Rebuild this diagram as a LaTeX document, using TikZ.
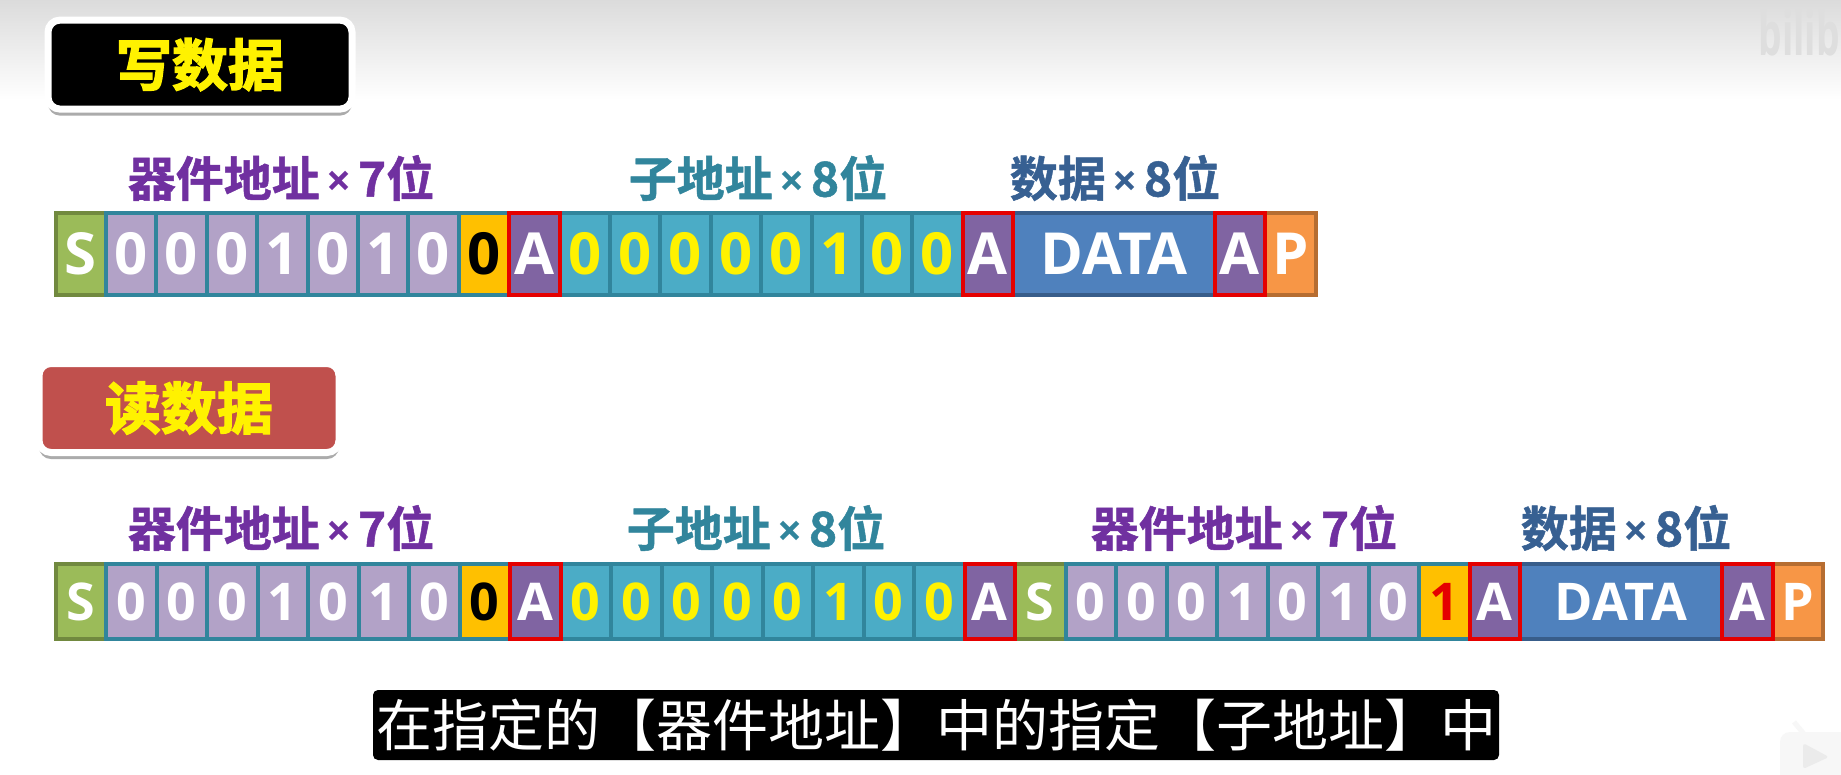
\documentclass[tikz,border=0pt]{standalone}
\usepackage{fontspec}
\setmainfont{Open Sans}
\newfontfamily\cjk{Noto Sans CJK SC}
\newfontfamily\cjkmid{Noto Sans CJK SC}[UprightFont=* Bold,FakeBold=1]
\newfontfamily\cjkfat{Noto Sans CJK SC}[UprightFont=* Bold,FakeBold=2.5]
\usetikzlibrary{shadows}

\definecolor{tealline}{HTML}{31859C}
\definecolor{lilac}{HTML}{B2A2C7}
\definecolor{subfill}{HTML}{4BACC6}
\definecolor{ackfill}{HTML}{8064A2}
\definecolor{datafill}{HTML}{4F81BD}
\definecolor{dataline}{HTML}{385D8A}
\definecolor{startfill}{HTML}{9BBB59}
\definecolor{startline}{HTML}{71893F}
\definecolor{stopfill}{HTML}{F79646}
\definecolor{stopline}{HTML}{B66D31}
\definecolor{labpurple}{HTML}{7030A0}
\definecolor{labblue}{HTML}{376092}
\definecolor{alarmred}{HTML}{C0504D}
\definecolor{rworange}{HTML}{FFC000}

\newcommand{\bysign}{\hspace{7pt}{\rmfamily\bfseries\fontsize{44}{46}\selectfont ×}\hspace{6pt}}

\tikzset{
  bitcell/.style={minimum width=\cellw, minimum height=\cellh, inner sep=0pt,
    line width=4pt, font=\rowfont\bfseries, text=white},
  startbit/.style={bitcell, fill=startfill, draw=startline},
  devbit/.style={bitcell, fill=lilac, draw=tealline},
  rwbit/.style={bitcell, fill=rworange, draw=tealline, text=black},
  rwone/.style={rwbit, text=red!90!black},
  subbit/.style={bitcell, fill=subfill, draw=tealline, text=yellow},
  ackbit/.style={bitcell, fill=ackfill, draw=red!90!black},
  datablk/.style={bitcell, fill=datafill, draw=dataline, minimum width=4*\cellw},
  stopbit/.style={bitcell, fill=stopfill, draw=stopline},
  fieldlab/.style={inner sep=0pt, font=\cjkmid\fontsize{48}{50}\selectfont},
  titlebox/.style={draw=white, line width=7pt, rounded corners=12pt, text=yellow,
    minimum height=89pt, inner sep=0pt,
    font=\cjkfat\fontsize{56}{58}\selectfont,
    drop shadow={shadow xshift=0pt, shadow yshift=-6.5pt, opacity=.6, fill=black!55}},
}

\begin{document}
\begin{tikzpicture}[x=1pt, y=-1pt]
  \useasboundingbox (0,0) rectangle (1841,774);
  \fill [white] (0,0) rectangle (1841,774);
  \fill [top color=black!14, bottom color=white] (0,0) rectangle (1841,100);

  % Faint site marks
  \node (mark) [anchor=east, inner sep=0pt, text=black!13, font=\bfseries\fontsize{60}{62}\selectfont] at (1840,33) {\scalebox{0.62}[1]{bilib}};
  \fill [black!3, rounded corners=10pt] (1780,732) rectangle (1860,790);
  \draw [black!3, line width=5pt] (1794,722) -- (1804,734);
  \fill [black!8, rounded corners=3pt] (1803,743) -- (1829,757) -- (1803,769) -- cycle;

  % Write
  \node (wrtitle) [titlebox, fill=black, minimum width=304pt] at (200,64.6) {写数据};

  \node (wrdev) [fieldlab, text=labpurple] at (281,178) {器件地址\bysign 7位};
  \node (wrsub) [fieldlab, text=tealline] at (758,178) {子地址\bysign 8位};
  \node (wrdat) [fieldlab, text=labblue] at (1115,178) {数据\bysign 8位};

  \begin{scope}
    \def\cellw{50.4pt}
    \def\cellh{82pt}
    \def\rowfont{\fontsize{58}{60}\selectfont}
    \foreach \n/\kind/\txt [count=\i] in {0/startbit/S, 1/devbit/0, 2/devbit/0, 3/devbit/0, 4/devbit/1,
        5/devbit/0, 6/devbit/1, 7/devbit/0, 8/rwbit/0, 10/subbit/0, 11/subbit/0, 12/subbit/0, 13/subbit/0,
        14/subbit/0, 15/subbit/1, 16/subbit/0, 17/subbit/0, 20.5/datablk/DATA, 24/stopbit/P,
        9/ackbit/A, 18/ackbit/A, 23/ackbit/A}
      \node (wr\i) [\kind] at ({55.5+50.4*(\n+0.5)},254) {\txt};
  \end{scope}

  % Read
  \node (rdtitle) [titlebox, fill=alarmred, minimum width=300pt] at (189,408) {读数据};

  \node (rddev) [fieldlab, text=labpurple] at (281,528) {器件地址\bysign 7位};
  \node (rdsub) [fieldlab, text=tealline] at (756,528) {子地址\bysign 8位};
  \node (rddevb) [fieldlab, text=labpurple] at (1244,528) {器件地址\bysign 7位};
  \node (rddat) [fieldlab, text=labblue] at (1626,528) {数据\bysign 8位};

  \begin{scope}
    \def\cellw{50.5pt}
    \def\cellh{75pt}
    \def\rowfont{\fontsize{52}{54}\selectfont}
    \foreach \n/\kind/\txt [count=\i] in {0/startbit/S, 1/devbit/0, 2/devbit/0, 3/devbit/0, 4/devbit/1,
        5/devbit/0, 6/devbit/1, 7/devbit/0, 8/rwbit/0, 10/subbit/0, 11/subbit/0, 12/subbit/0, 13/subbit/0,
        14/subbit/0, 15/subbit/1, 16/subbit/0, 17/subbit/0, 19/startbit/S, 20/devbit/0, 21/devbit/0,
        22/devbit/0, 23/devbit/1, 24/devbit/0, 25/devbit/1, 26/devbit/0, 27/rwone/1, 30.5/datablk/DATA,
        34/stopbit/P, 9/ackbit/A, 18/ackbit/A, 28/ackbit/A, 33/ackbit/A}
      \node (rd\i) [\kind] at ({55.5+50.5*(\n+0.5)},601.5) {\txt};
  \end{scope}

  % Caption
  \node (caption) [fill=black, text=white, rounded corners=5pt, minimum width=1126pt, minimum height=70pt,
    inner sep=0pt, font=\cjk\fontsize{56}{58}\selectfont] at (936,725) {在指定的【器件地址】中的指定【子地址】中};

\end{tikzpicture}
\end{document}
